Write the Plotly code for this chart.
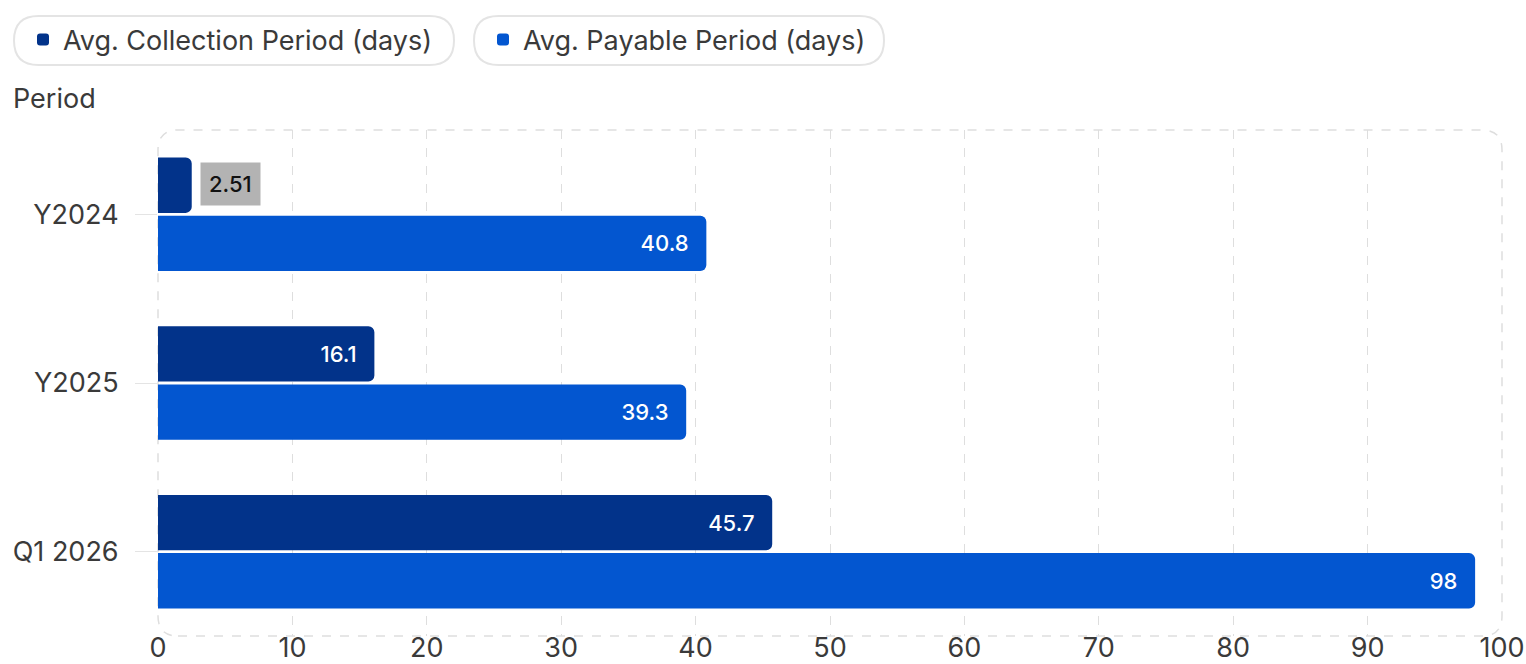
import plotly.graph_objects as go

categories = ["Y2024", "Y2025", "Q1 2026"]
collection_days = [2.51, 16.1, 45.7]
payable_days = [40.8, 39.3, 98]
x_ticks = [0, 10, 20, 30, 40, 50, 60, 70, 80, 90, 100]

C_COLL = "#02338A"
C_PAY = "#0356D0"
FONT = "Inter"
TXT = "#3a3a3a"
PAD = "\u00a0\u00a0"

def inside_labels(vals):
    return ["" if v < 5 else f"{v:g}{PAD}" for v in vals]

fig = go.Figure()
fig.add_trace(go.Bar(
    name="Avg. Collection Period (days)", y=categories, x=collection_days,
    orientation="h", marker=dict(color=C_COLL, cornerradius=6, line=dict(width=0)),
    text=inside_labels(collection_days), textposition="inside", insidetextanchor="end",
    textfont=dict(color="white", size=22, family=FONT, weight=500),
))
fig.add_trace(go.Bar(
    name="Avg. Payable Period (days)", y=categories, x=payable_days,
    orientation="h", marker=dict(color=C_PAY, cornerradius=6, line=dict(width=0)),
    text=inside_labels(payable_days), textposition="inside", insidetextanchor="end",
    textfont=dict(color="white", size=22, family=FONT, weight=500),
))

# outside label for the small bar
for cat, v in zip(categories, collection_days):
    if v < 5:
        fig.add_annotation(
            x=v, y=cat, xref="x", yref="y", yshift=30,
            text=f"{v:g}", showarrow=False, xanchor="left", xshift=8,
            font=dict(color="#111", size=22, family=FONT, weight=500),
            bgcolor="#B3B3B3", borderpad=8,
        )

# rounded dashed plot border
rx, ry = 20 / 1344, 20 / 506
path = (f"M {rx},0 L {1-rx},0 Q 1,0 1,{ry} L 1,{1-ry} Q 1,1 {1-rx},1 "
        f"L {rx},1 Q 0,1 0,{1-ry} L 0,{ry} Q 0,0 {rx},0 Z")
fig.add_shape(type="path", xref="paper", yref="paper", path=path,
              line=dict(color="#DEDEDE", width=1.5, dash="dash"), layer="below")

# legend pills
def pill(x0, x1, y0, y1):
    w, h = 1344, 506
    r = (y1 - y0) / 2
    px = lambda v: (v - 158) / w
    py = lambda v: (636 - v) / h
    rxp, ryp = r / w, r / h
    X0, X1, Y0, Y1 = px(x0), px(x1), py(y1), py(y0)
    p = (f"M {X0+rxp},{Y0} L {X1-rxp},{Y0} Q {X1},{Y0} {X1},{Y0+ryp} L {X1},{Y1-ryp} "
         f"Q {X1},{Y1} {X1-rxp},{Y1} L {X0+rxp},{Y1} Q {X0},{Y1} {X0},{Y1-ryp} "
         f"L {X0},{Y0+ryp} Q {X0},{Y0} {X0+rxp},{Y0} Z")
    fig.add_shape(type="path", xref="paper", yref="paper", path=p,
                  line=dict(color="#E4E4E4", width=2), fillcolor="rgba(0,0,0,0)")

pill(14, 454, 16, 65)
pill(474, 884, 16, 65)

fig.add_annotation(text="Period", xref="paper", yref="paper",
                   x=(11 - 158) / 1344, y=(636 - 99) / 506, xanchor="left", yanchor="middle",
                   showarrow=False, font=dict(size=27, color=TXT, family=FONT))

fig.update_layout(
    width=1526, height=664,
    margin=dict(l=158, r=24, t=130, b=28, autoexpand=False),
    paper_bgcolor="white", plot_bgcolor="white",
    font=dict(family=FONT, color=TXT, size=27),
    barmode="group", bargap=0.31, bargroupgap=0.05,
    showlegend=True,
    legend=dict(orientation="h", xref="container", yref="container",
                x=23 / 1526, y=1 - 40 / 664, xanchor="left", yanchor="middle",
                font=dict(size=27, color=TXT, family=FONT),
                itemsizing="constant", entrywidth=415, entrywidthmode="pixels",
                traceorder="normal", bgcolor="rgba(0,0,0,0)"),
    xaxis=dict(range=[0, 100], tickvals=x_ticks, showgrid=True, gridcolor="#DEDEDE",
               griddash="dash", gridwidth=1.2, zeroline=False, showline=False,
               automargin=False,
               tickfont=dict(size=27, color=TXT), ticks="", ticklabelstandoff=-7),
    yaxis=dict(categoryorder="array", categoryarray=categories, autorange=False,
               range=[2.5, -0.5], showgrid=False, zeroline=False, showline=False,
               automargin=False,
               ticks="outside", ticklen=22, tickcolor="#E4E4E4", tickwidth=1,
               tickfont=dict(size=27, color=TXT), ticklabelstandoff=11),
)

fig.write_html("out.html", config={"displayModeBar": False})
with open("out.html", encoding="utf-8") as f:
    html = f.read()
html = html.replace("<head>", "<head><style>html,body{margin:0;padding:0}</style>", 1)
with open("out.html", "w", encoding="utf-8") as f:
    f.write(html)
